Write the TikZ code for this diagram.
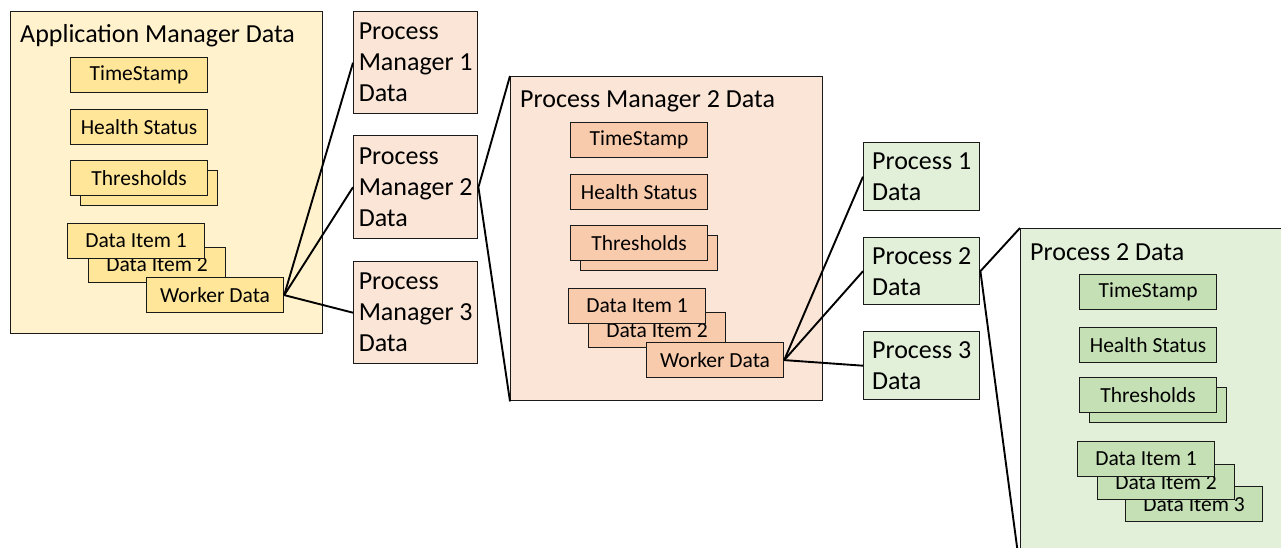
\documentclass[tikz,border=0pt]{standalone}
\usepackage{fontspec}
\setmainfont{Carlito}
\definecolor{ylwOut}{HTML}{FFF2CC}
\definecolor{ylwIn}{HTML}{FFE699}
\definecolor{orgOut}{HTML}{FBE5D6}
\definecolor{orgIn}{HTML}{F8CBAD}
\definecolor{grnOut}{HTML}{E2F0D9}
\definecolor{grnIn}{HTML}{C5E0B4}
\definecolor{edge}{HTML}{1A1A1A}
\tikzset{
  panel/.style={draw=edge, line width=1.4pt, anchor=north west, inner sep=0pt},
  title/.style={anchor=base west, inner sep=0pt, font=\fontsize{26}{31}\selectfont},
  item/.style={draw=edge, line width=1.2pt, anchor=north west, inner sep=0pt,
    minimum width=137pt, minimum height=35pt, font=\fontsize{21.5}{26}\selectfont},
  tag/.style={draw=edge, line width=1.4pt, anchor=north west, inner sep=0pt,
    align=left, font=\fontsize{26}{31}\selectfont},
  link/.style={draw=black, line width=1.9pt}
}
\begin{document}
\begin{tikzpicture}[x=1pt,y=-1pt]
\useasboundingbox (0,0) rectangle (1281,548);
\clip (0,0) rectangle (1281,548);

% application manager record
\begin{scope}[shift={(10,11)}]
  \node[panel, fill=ylwOut, minimum width=312pt, minimum height=322pt] (a-box) at (0,0) {};
  \node[title] (a-title) at (10,32) {Application Manager Data};
  \node[item, fill=ylwIn] (a-ts) at (60,46) {TimeStamp};
  \node[item, fill=ylwIn] (a-hs) at (60,98) {Health Status};
  \node[item, fill=ylwIn] (a-thb) at (70,159) {};
  \node[item, fill=ylwIn] (a-th) at (60,149) {Thresholds};
  \node[item, fill=ylwIn] (a-d2) at (78,236) {Data Item 2};
  \node[item, fill=ylwIn] (a-d1) at (57,212) {Data Item 1};
  \node[item, fill=ylwIn] (a-wd) at (136,266) {Worker Data};
\end{scope}

% process manager records
\node[tag, fill=orgOut, minimum width=124pt, minimum height=102pt] (pm1) at (353,11) {Process\\Manager 1\\Data};
\node[tag, fill=orgOut, minimum width=124pt, minimum height=103pt] (pm2) at (353,135) {Process\\Manager 2\\Data};
\node[tag, fill=orgOut, minimum width=124pt, minimum height=102pt] (pm3) at (353,261) {Process\\Manager 3\\Data};

% expanded process manager 2 record
\begin{scope}[shift={(510,76)}]
  \node[panel, fill=orgOut, minimum width=312pt, minimum height=324pt] (b-box) at (0,0) {};
  \node[title] (b-title) at (10,32) {Process Manager 2 Data};
  \node[item, fill=orgIn] (b-ts) at (60,46) {TimeStamp};
  \node[item, fill=orgIn] (b-hs) at (60,98) {Health Status};
  \node[item, fill=orgIn] (b-thb) at (70,159) {};
  \node[item, fill=orgIn] (b-th) at (60,149) {Thresholds};
  \node[item, fill=orgIn] (b-d2) at (78,236) {Data Item 2};
  \node[item, fill=orgIn] (b-d1) at (58,212) {Data Item 1};
  \node[item, fill=orgIn] (b-wd) at (136,266) {Worker Data};
\end{scope}

% process records
\node[tag, fill=grnOut, minimum width=116pt, minimum height=68pt] (p1) at (863,142) {Process 1\\Data};
\node[tag, fill=grnOut, minimum width=116pt, minimum height=67pt] (p2) at (863,237) {Process 2\\Data};
\node[tag, fill=grnOut, minimum width=116pt, minimum height=68pt] (p3) at (863,331) {Process 3\\Data};

% expanded process 2 record
\begin{scope}[shift={(1020,228)}]
  \node[panel, fill=grnOut, minimum width=300pt, minimum height=340pt] (c-box) at (0,0) {};
  \node[title] (c-title) at (10,32) {Process 2 Data};
  \node[item, fill=grnIn] (c-ts) at (59,46) {TimeStamp};
  \node[item, fill=grnIn] (c-hs) at (59,99) {Health Status};
  \node[item, fill=grnIn] (c-thb) at (69,159) {};
  \node[item, fill=grnIn] (c-th) at (59,149) {Thresholds};
  \node[item, fill=grnIn] (c-d3) at (105,258) {Data Item 3};
  \node[item, fill=grnIn] (c-d2) at (77,236) {Data Item 2};
  \node[item, fill=grnIn] (c-d1) at (57,213) {Data Item 1};
\end{scope}

% connectors
\draw[link] (a-wd.east) -- (pm1.west);
\draw[link] (a-wd.east) -- (pm2.west);
\draw[link] (a-wd.east) -- (pm3.west);
\draw[link] (b-box.north west) -- (pm2.east) -- (b-box.south west);
\draw[link] (b-wd.east) -- (p1.west);
\draw[link] (b-wd.east) -- (p2.west);
\draw[link] (b-wd.east) -- (p3.west);
\draw[link] (c-box.north west) -- (p2.east) -- (c-box.south west);
\end{tikzpicture}
\end{document}
